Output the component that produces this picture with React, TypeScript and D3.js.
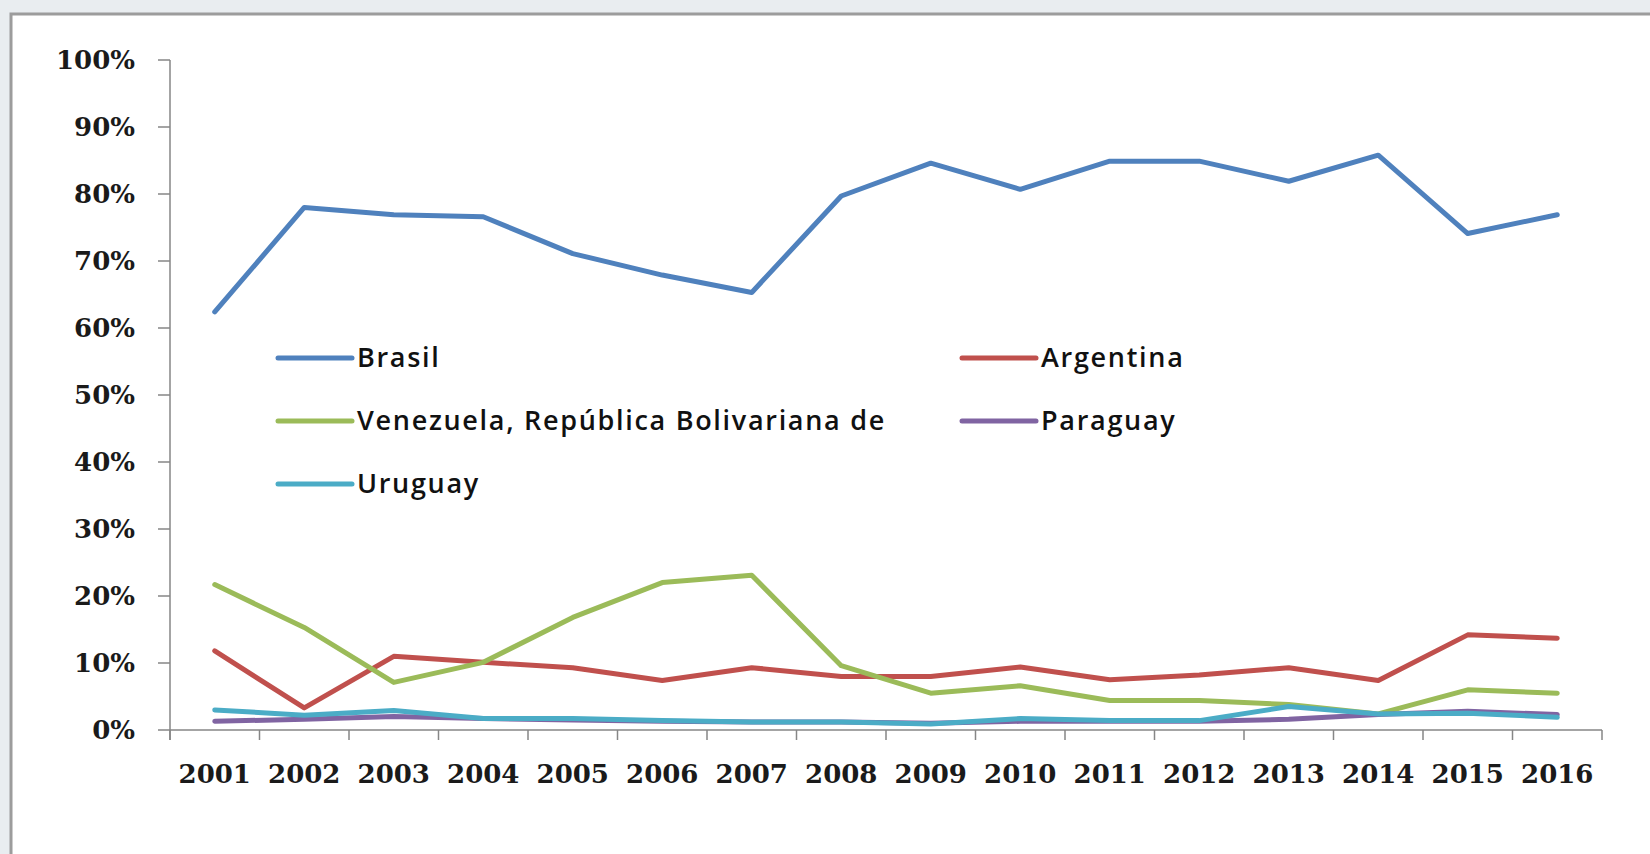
import React from 'react';
import * as d3 from 'd3';

const years = ['2001', '2002', '2003', '2004', '2005', '2006', '2007', '2008', '2009', '2010', '2011', '2012', '2013', '2014', '2015', '2016'];

const brasil = [62.4, 78.0, 76.9, 76.6, 71.1, 67.9, 65.3, 79.7, 84.6, 80.7, 84.9, 84.9, 81.9, 85.8, 74.1, 76.9];
const argentina = [11.8, 3.3, 11.0, 10.1, 9.3, 7.4, 9.3, 8.0, 8.0, 9.4, 7.5, 8.2, 9.3, 7.4, 14.2, 13.7];
const venezuela = [21.7, 15.3, 7.1, 10.1, 16.8, 22.0, 23.1, 9.6, 5.5, 6.6, 4.4, 4.4, 3.8, 2.4, 6.0, 5.5];
const paraguay = [1.3, 1.6, 2.0, 1.7, 1.5, 1.3, 1.2, 1.2, 1.0, 1.3, 1.3, 1.3, 1.6, 2.3, 2.8, 2.3];
const uruguay = [3.0, 2.2, 2.9, 1.7, 1.7, 1.4, 1.2, 1.2, 0.9, 1.7, 1.4, 1.4, 3.5, 2.4, 2.5, 1.9];

const yTicks = [0, 10, 20, 30, 40, 50, 60, 70, 80, 90, 100];

const series = [
  { name: 'Brasil', values: brasil, color: '#4F81BD' },
  { name: 'Argentina', values: argentina, color: '#C0504D' },
  { name: 'Venezuela, República Bolivariana de', values: venezuela, color: '#9BBB59' },
  { name: 'Paraguay', values: paraguay, color: '#8064A2' },
  { name: 'Uruguay', values: uruguay, color: '#4BACC6' },
];

const W = 1650;
const H = 854;
const left = 170;
const right = 1602;
const top = 60;
const bottom = 730;

const axisFont = '"DejaVu Serif", serif';
const legendFont = '"Open Sans", sans-serif';

export default function App() {
  const x = d3.scaleBand<string>().domain(years).range([left, right]);
  const y = d3.scaleLinear().domain([0, 100]).range([bottom, top]);

  const line = d3.line<number>()
    .x((_, i) => (x(years[i]) as number) + x.bandwidth() / 2)
    .y(d => y(d));

  // tick marks sit on the category boundaries
  const boundaries = years.map(yr => x(yr) as number).concat([right]);

  const legendCols = [278, 962];
  const legendRows = [358, 421, 484];

  return (
    <div style={{ position: 'absolute', left: 0, top: 0, width: W, height: H, background: '#e9edf0' }}>
      <svg width={W} height={H} style={{ display: 'block' }}>
        <rect x={0} y={0} width={W} height={H} fill="#e9edf0" />
        <rect x={11} y={14} width={W + 20} height={H + 20} fill="#ffffff" stroke="#9c9c9c" strokeWidth={3} />

        {/* y axis */}
        <line x1={left} x2={left} y1={top} y2={bottom + 10} stroke="#868686" strokeWidth={1.5} />
        {yTicks.map(t => (
          <g key={t}>
            <line x1={left - 12} x2={left} y1={y(t)} y2={y(t)} stroke="#868686" strokeWidth={1.5} />
            <text
              x={135}
              y={y(t)}
              dy="0.36em"
              textAnchor="end"
              fontFamily={axisFont}
              fontWeight="bold"
              fontSize={26}
              fill="#1a1a1a"
            >
              {t}%
            </text>
          </g>
        ))}

        {/* x axis */}
        <line x1={left} x2={right} y1={bottom} y2={bottom} stroke="#868686" strokeWidth={1.5} />
        {boundaries.map((bx, i) => (
          <line key={i} x1={bx} x2={bx} y1={bottom} y2={bottom + 10} stroke="#868686" strokeWidth={1.5} />
        ))}
        {years.map(yr => (
          <text
            key={yr}
            x={(x(yr) as number) + x.bandwidth() / 2}
            y={783}
            textAnchor="middle"
            fontFamily={axisFont}
            fontWeight="bold"
            fontSize={26}
            fill="#1a1a1a"
          >
            {yr}
          </text>
        ))}

        {/* series */}
        {series.map(s => (
          <path
            key={s.name}
            d={line(s.values) as string}
            fill="none"
            stroke={s.color}
            strokeWidth={5}
            strokeLinejoin="round"
            strokeLinecap="round"
          />
        ))}

        {/* legend */}
        {series.map((s, i) => {
          const lx = legendCols[i % 2];
          const ly = legendRows[Math.floor(i / 2)];
          return (
            <g key={s.name}>
              <line x1={lx} x2={lx + 74} y1={ly} y2={ly} stroke={s.color} strokeWidth={5} strokeLinecap="round" />
              <text
                x={lx + 79}
                y={ly}
                dy="0.35em"
                fontFamily={legendFont}
                fontWeight={600}
                fontSize={27}
                letterSpacing={1.7}
                fill="#111111"
              >
                {s.name}
              </text>
            </g>
          );
        })}
      </svg>
    </div>
  );
}
